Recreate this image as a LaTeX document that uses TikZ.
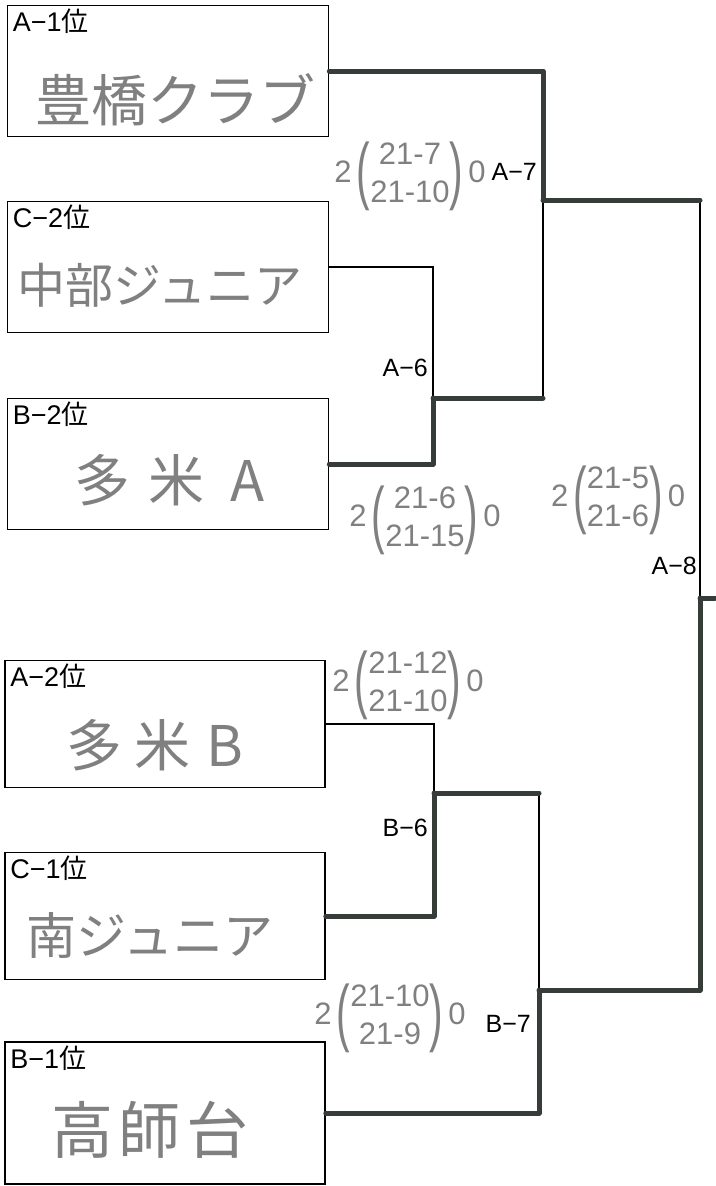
\documentclass[tikz,border=0pt]{standalone}
\usepackage{fontspec}
\usepackage{graphicx}
\setmainfont{Liberation Sans}
\newfontfamily\jp{Noto Sans CJK JP}
\usetikzlibrary{positioning}
\definecolor{marker}{HTML}{363D39}
\definecolor{pencil}{HTML}{808080}
\tikzstyle{team}=[draw, line width=1.6pt, minimum width=321pt, minimum height=131pt, inner sep=0pt]
\tikzstyle{rank}=[anchor=base west, inner sep=0pt, font=\fontsize{27}{27}\selectfont]
\tikzstyle{hand}=[text=pencil, inner sep=0pt, font=\jp\fontsize{56}{56}\selectfont]
\tikzstyle{score}=[text=pencil, inner sep=0pt, font=\fontsize{31}{38}\selectfont]
\tikzstyle{match}=[inner sep=0pt, font=\fontsize{25}{25}\selectfont]
\tikzstyle{wire}=[line width=1.6pt]
\tikzstyle{win}=[line width=5pt, color=marker, line cap=round, line join=round]
\newcommand{\rnk}[2]{#1−#2{\jp 位}}
\newcommand{\brk}[1]{$\vcenter{\hbox{\scalebox{0.55}[1]{\fontsize{74}{74}\selectfont #1}}}$}
\newcommand{\sets}[4]{#1\,\brk{(}\begin{tabular}{@{}c@{}}#2\\#3\end{tabular}\brk{)}\,#4}

\begin{document}
\begin{tikzpicture}[x=1pt, y=-1pt]
	\useasboundingbox (0,0) rectangle (715,1186);
	\node[team] (T1) at (168, 71) {};
	\node[team] (T2) at (168, 267) {};
	\node[team] (T3) at (168, 464) {};
	\node[team, minimum width=320pt, minimum height=127pt] (T4) at (165, 724) {};
	\node[team, minimum width=320pt, minimum height=127pt] (T5) at (165, 916) {};
	\node[team, minimum width=320pt, minimum height=142pt] (T6) at (165, 1113) {};

	\node[rank] (R1) at ([xshift=6pt, yshift=-27pt]T1.north west) {\rnk{A}{1}};
	\node[rank] (R2) at ([xshift=6pt, yshift=-27pt]T2.north west) {\rnk{C}{2}};
	\node[rank] (R3) at ([xshift=6pt, yshift=-27pt]T3.north west) {\rnk{B}{2}};
	\node[rank] (R4) at ([xshift=6pt, yshift=-27pt]T4.north west) {\rnk{A}{2}};
	\node[rank] (R5) at ([xshift=6pt, yshift=-27pt]T5.north west) {\rnk{C}{1}};
	\node[rank] (R6) at ([xshift=6pt, yshift=-27pt]T6.north west) {\rnk{B}{1}};

	\node[hand] (N1) at ([xshift=7pt, yshift=-29pt]T1.center) {豊橋クラブ};
	\node[hand, font=\jp\fontsize{48}{48}\selectfont] (N2) at ([xshift=-8pt, yshift=-18pt]T2.center) {中部ジュニア};
	\node[hand] (N3) at ([xshift=2pt, yshift=-16pt]T3.center) {多\hspace{18pt}米\hspace{26pt}A};
	\node[hand] (N4) at ([xshift=-10pt, yshift=-21pt]T4.center) {多\hspace{12pt}米\hspace{16pt}B};
	\node[hand, font=\jp\fontsize{50}{50}\selectfont] (N5) at ([xshift=-15pt, yshift=-19pt]T5.center) {南ジュニア};
	\node[hand, font=\jp\fontsize{62}{62}\selectfont] (N6) at ([xshift=-15pt, yshift=-17pt]T6.center) {高\hspace{6pt}師\hspace{6pt}台};

	\coordinate (A6) at (433, 398);
	\coordinate (A7) at (543, 200);
	\coordinate (A8) at (700, 598);
	\coordinate (B6) at (434, 793);
	\coordinate (B7) at (539, 990);
	\coordinate (top) at (715, 598);

	\draw[wire] (T2.east) -| (A6);
	\draw[wire] (A7) |- (A6);
	\draw[wire] (A7 -| A8) -- (A8);
	\draw[wire] (T4.east) -| (B6);
	\draw[wire] (B7) |- (B6);

	\draw[win] (T1.east) -| (A7);
	\draw[win] (T3.east) -| (A6);
	\draw[win] (A6) -- (A6 -| A7);
	\draw[win] (A7) -- (A7 -| A8);
	\draw[win] (T5.east) -| (B6);
	\draw[win] (B6) -- (B6 -| B7);
	\draw[win] (T6.east) -| (B7);
	\draw[win] (B7) -| (A8);
	\draw[win] (A8) -- (top);

	\node[match, anchor=east] (L1) at (537, 172) {A−7};
	\node[match, anchor=east] (L2) at (428, 368) {A−6};
	\node[match, anchor=east] (L3) at (697, 566) {A−8};
	\node[match, anchor=east] (L4) at (428, 828) {B−6};
	\node[match, anchor=east] (L5) at (531, 1024) {B−7};

	\node[score] (S1) at (410, 176) {\sets{2}{21-7}{21-10}{0}};
	\node[score] (S2) at (425, 520) {\sets{2}{21-6}{21-15}{0}};
	\node[score] (S3) at (618, 500) {\sets{2}{21-5}{21-6}{0}};
	\node[score] (S4) at (408, 685) {\sets{2}{21-12}{21-10}{0}};
	\node[score] (S5) at (390, 1018) {\sets{2}{21-10}{21-9}{0}};
\end{tikzpicture}
\end{document}
